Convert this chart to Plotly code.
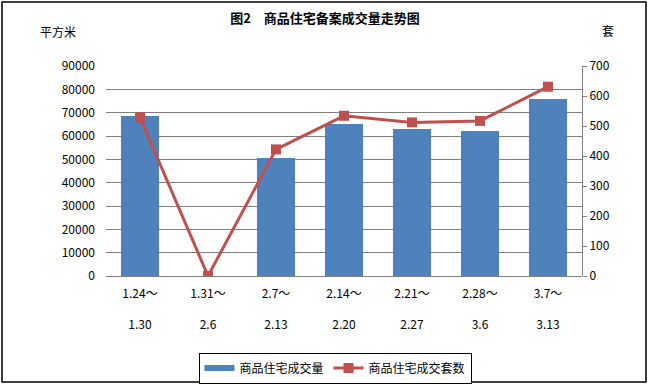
import plotly.graph_objects as go

categories = ["1.24～<br><br>1.30", "1.31～<br><br>2.6", "2.7～<br><br>2.13", "2.14～<br><br>2.20",
              "2.21～<br><br>2.27", "2.28～<br><br>3.6", "3.7～<br><br>3.13"]
area_values = [68600, 0, 50600, 65100, 63000, 62100, 75900]
unit_values = [529, 0, 422, 534, 512, 517, 631]
left_ticks = [0, 10000, 20000, 30000, 40000, 50000, 60000, 70000, 80000, 90000]
right_ticks = [0, 100, 200, 300, 400, 500, 600, 700]

FONT = "Noto Sans CJK SC"
BAR_COLOR = "#4F81BD"
LINE_COLOR = "#C0504D"

fig = go.Figure()
fig.add_trace(go.Bar(
    x=categories, y=area_values, name="商品住宅成交量", showlegend=False,
    marker=dict(color=BAR_COLOR, line=dict(width=0)),
))
# legend swatch for the bar series (Excel-style wide strip)
fig.add_trace(go.Scatter(
    x=[None], y=[None], name="商品住宅成交量", mode="lines",
    line=dict(color=BAR_COLOR, width=6), showlegend=True,
))
fig.add_trace(go.Scatter(
    x=categories, y=unit_values, name="商品住宅成交套数", yaxis="y2",
    mode="lines+markers",
    line=dict(color=LINE_COLOR, width=3),
    marker=dict(symbol="square", size=10, color=LINE_COLOR),
))

W, H = 651, 385
L, R, T, B = 106, 69, 66, 109
pw, ph = W - L - R, H - T - B

def px(x):
    return (x - L) / pw

def py(y):
    return (H - B - y) / ph

fig.update_layout(
    width=W, height=H,
    margin=dict(l=L, r=R, t=T, b=B, autoexpand=False),
    paper_bgcolor="white", plot_bgcolor="white",
    font=dict(family=FONT, size=12, color="black"),
    bargap=0.44,
    showlegend=True,
    legend=dict(orientation="h", xref="container", yref="container",
                x=335 / W, y=1 - 368 / H, xanchor="center", yanchor="middle",
                bordercolor="black", borderwidth=1, font=dict(size=12),
                tracegroupgap=0, bgcolor="white"),
    title=dict(text="<b>图2　商品住宅备案成交量走势图</b>", x=325 / W, xanchor="center",
               y=1 - 18 / H, yanchor="middle", yref="container", xref="container",
               font=dict(size=13, family=FONT)),
    xaxis=dict(showline=False, ticks="", tickfont=dict(size=12), ticklabelstandoff=9,
               showgrid=False, automargin=False),
    yaxis=dict(range=[0, 90000], tickvals=left_ticks, showgrid=True, gridcolor="#808080",
               gridwidth=1, zeroline=True, zerolinecolor="#808080", zerolinewidth=1,
               showline=False, ticks="", ticklabelstandoff=10, tickformat="d",
               tickfont=dict(size=12), automargin=False),
    yaxis2=dict(range=[0, 700], tickvals=right_ticks, overlaying="y", side="right",
                showgrid=False, zeroline=False, showline=True, linecolor="#808080",
                linewidth=1, ticks="outside", ticklen=4, tickcolor="#808080",
                tickfont=dict(size=12), automargin=False),
    shapes=[dict(type="rect", xref="paper", yref="paper",
                 x0=px(2), x1=px(646), y0=py(382), y1=py(2),
                 line=dict(color="black", width=1.5), fillcolor="rgba(0,0,0,0)", layer="below")],
    annotations=[
        dict(text="平方米", xref="paper", yref="paper", x=px(58), y=py(32),
             xanchor="center", yanchor="middle", showarrow=False, font=dict(size=12)),
        dict(text="套", xref="paper", yref="paper", x=px(608), y=py(31),
             xanchor="center", yanchor="middle", showarrow=False, font=dict(size=12)),
    ],
)

fig.write_html("out.html", config={"displayModeBar": False},
               post_script="document.body.style.margin='0';")
